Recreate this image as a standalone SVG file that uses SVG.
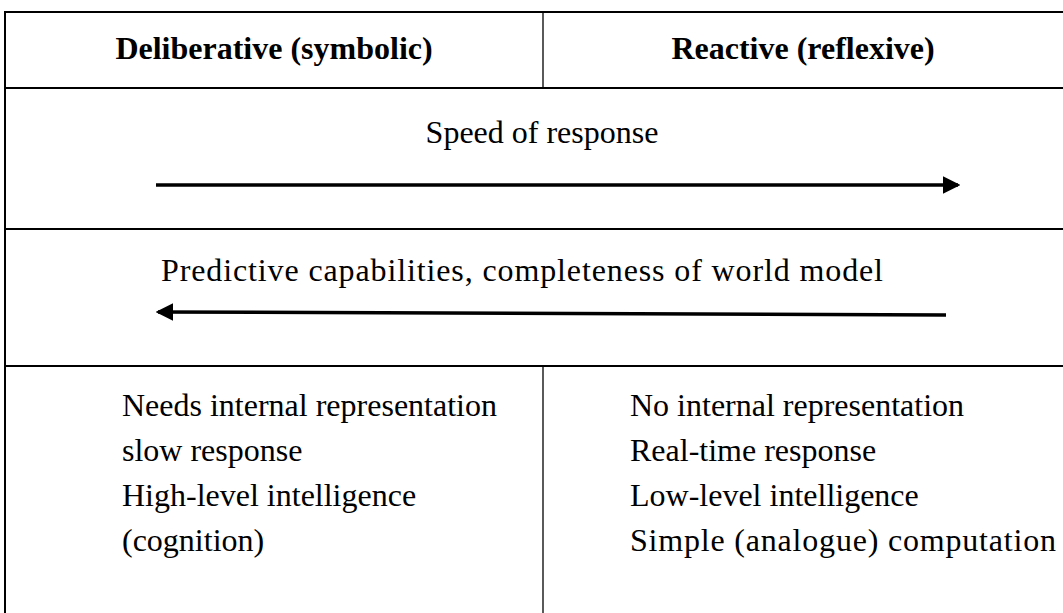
<svg xmlns="http://www.w3.org/2000/svg" width="1063" height="613" viewBox="0 0 1063 613">
<style>
.b{stroke:#000;stroke-width:2;fill:none}
.d{stroke:#000;stroke-width:1.3;fill:none}
.t{font-family:"Liberation Serif","Times New Roman",serif;font-size:32px;fill:#000}
.h{font-weight:bold}
.a{stroke:#000;stroke-width:3.5;fill:none}
</style>
<defs>
<marker id="ah" markerWidth="5" markerHeight="5" refX="4.3" refY="2.5" orient="auto" markerUnits="strokeWidth" viewBox="0 0 5 5">
<path d="M0,0 L5,2.5 L0,5 Z" fill="#000"/>
</marker>
</defs>
<g id="table">
<line class="b" x1="5" y1="12" x2="1070" y2="12"/>
<line class="b" x1="5" y1="88" x2="1070" y2="88"/>
<line class="b" x1="5" y1="229" x2="1070" y2="229"/>
<line class="b" x1="5" y1="366" x2="1070" y2="366"/>
<line class="b" x1="5" y1="11" x2="5" y2="620"/>
<line class="d" x1="543" y1="12" x2="543" y2="88"/>
<line class="d" x1="543" y1="366" x2="543" y2="620"/>
</g>
<g id="header-deliberative"><text class="t h" x="274" y="59" text-anchor="middle">Deliberative (symbolic)</text></g>
<g id="header-reactive"><text class="t h" x="803" y="59" text-anchor="middle">Reactive (reflexive)</text></g>
<g id="speed"><text class="t" x="542" y="143" text-anchor="middle">Speed of response</text></g>
<g id="predictive"><text class="t" x="161" y="281" textLength="722" lengthAdjust="spacing">Predictive capabilities, completeness of world model</text></g>
<g id="connectors">
<line class="a" x1="156" y1="185" x2="958" y2="185" marker-end="url(#ah)"/>
<line class="a" x1="946" y1="315" x2="158" y2="312" marker-end="url(#ah)"/>
</g>
<g id="deliberative-props">
<text class="t" x="122" y="416">Needs internal representation</text>
<text class="t" x="122" y="461">slow response</text>
<text class="t" x="122" y="506">High-level intelligence</text>
<text class="t" x="122" y="551">(cognition)</text>
</g>
<g id="reactive-props">
<text class="t" x="630" y="416">No internal representation</text>
<text class="t" x="630" y="461">Real-time response</text>
<text class="t" x="630" y="506">Low-level intelligence</text>
<text class="t" x="630" y="551" textLength="426" lengthAdjust="spacing">Simple (analogue) computation</text>
</g>
</svg>
